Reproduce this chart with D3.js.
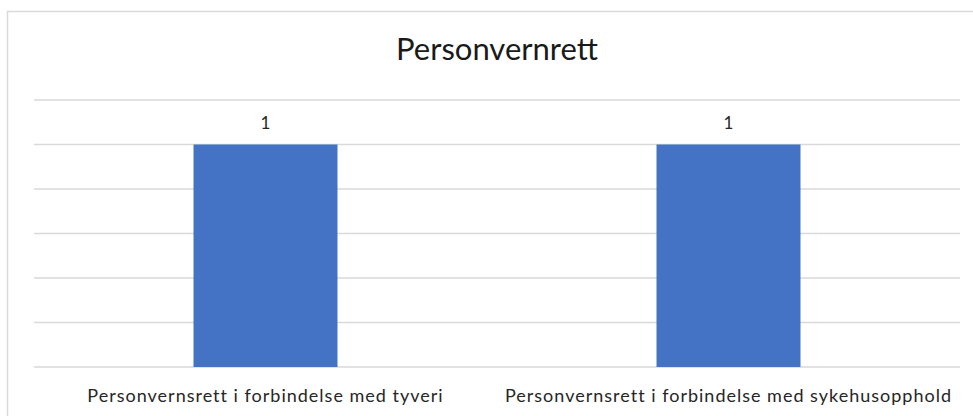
<!DOCTYPE html>
<html>
<head>
<meta charset="utf-8">
<script src="https://cdn.jsdelivr.net/npm/d3@7"></script>
<style>
  body { margin: 0; background: #fff; }
  svg { display: block; }
</style>
</head>
<body>
<svg></svg>
<script>
var categories = [
  'Personvernsrett i forbindelse med tyveri',
  'Personvernsrett i forbindelse med sykehusopphold'
];
var values = [1, 1];
var yTicks = [0, 0.2, 0.4, 0.6, 0.8, 1, 1.2];
var titleText = 'Personvernrett';

var W = 973, H = 416;
var plot = {left: 34, right: 960, top: 100, bottom: 367};

var svg = d3.select('svg').attr('width', W).attr('height', H);

// chart border (only top and left visible in picture)
svg.append('rect')
  .attr('x', 7.5).attr('y', 11.5)
  .attr('width', 990).attr('height', 430)
  .attr('fill', 'none')
  .attr('stroke', '#d9d9d9')
  .attr('stroke-width', 1.5);

var x = d3.scaleBand()
  .domain(categories)
  .range([plot.left, plot.right])
  .paddingInner(0.689)
  .paddingOuter(0.3445);

var y = d3.scaleLinear()
  .domain([0, 1.2])
  .range([plot.bottom, plot.top]);

// gridlines
svg.append('g').selectAll('line').data(yTicks).enter().append('line')
  .attr('x1', plot.left).attr('x2', plot.right)
  .attr('y1', function(d) { return y(d); })
  .attr('y2', function(d) { return y(d); })
  .attr('stroke', '#d9d9d9')
  .attr('stroke-width', 1.5);

// bars
svg.append('g').selectAll('rect').data(values).enter().append('rect')
  .attr('x', function(d, i) { return x(categories[i]); })
  .attr('y', function(d) { return y(d); })
  .attr('width', x.bandwidth())
  .attr('height', function(d) { return y(0) - y(d); })
  .attr('fill', '#4472c4');

// data labels
svg.append('g').selectAll('text').data(values).enter().append('text')
  .attr('x', function(d, i) { return x(categories[i]) + x.bandwidth() / 2; })
  .attr('y', function(d) { return y(d) - 16; })
  .attr('text-anchor', 'middle')
  .attr('font-family', 'Lato, sans-serif')
  .attr('font-size', 17)
  .attr('fill', '#262626')
  .text(function(d) { return d; });

// category axis labels (source has loose letter spacing)
var xAxis = d3.axisBottom(x).tickSize(0).tickPadding(0);
var gx = svg.append('g')
  .attr('transform', 'translate(0,' + plot.bottom + ')')
  .call(xAxis);
gx.select('.domain').remove();
gx.selectAll('text')
  .attr('dy', 0)
  .attr('y', 35)
  .attr('font-family', 'Lato, sans-serif')
  .attr('font-size', 18)
  .attr('letter-spacing', '1px')
  .attr('fill', '#262626');

// title
svg.append('text')
  .attr('x', 497).attr('y', 60)
  .attr('text-anchor', 'middle')
  .attr('font-family', 'Lato, sans-serif')
  .attr('font-size', 31)
  .attr('fill', '#1a1a1a')
  .text(titleText);
</script>
</body>
</html>
